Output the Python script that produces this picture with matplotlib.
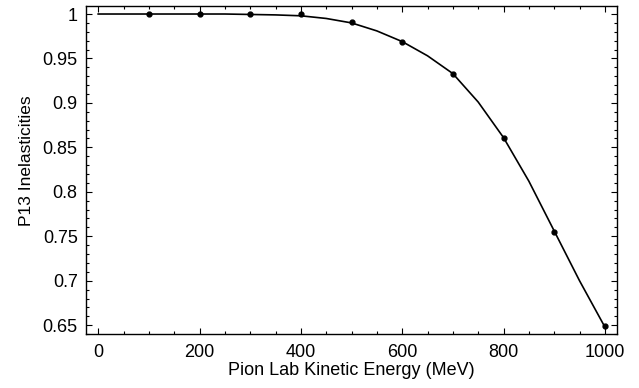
import numpy as np
import matplotlib.pyplot as plt
from matplotlib.ticker import MultipleLocator, FuncFormatter

plt.rcParams['font.family'] = ['Liberation Sans', 'DejaVu Sans']

# data points
energy = [100, 200, 300, 400, 500, 600, 700, 800, 900, 1000]
inel   = [1.0, 1.0, 1.0, 0.9997, 0.991, 0.969, 0.933, 0.861, 0.755, 0.649]

# fitted curve
curve_e = [0, 50, 100, 150, 200, 250, 300, 350, 400, 450, 500,
           550, 600, 650, 700, 750, 800, 850, 900, 950, 1000]
curve_v = [1.0, 1.0, 1.0, 1.0, 1.0, 1.0, 0.9995, 0.999, 0.998, 0.995, 0.990,
           0.981, 0.969, 0.953, 0.933, 0.901, 0.861, 0.812, 0.756, 0.700, 0.648]

fig = plt.figure( figsize = ( 6.39, 3.88 ), dpi = 100 )
ax = fig.add_axes( [ 0.1346, 0.139, 0.831, 0.8455 ] )

ax.plot( curve_e, curve_v, '-', color = 'black', lw = 1.2 )
ax.plot( energy, inel, 'o', color = 'black', ms = 3.5 )

ax.set_xlim( -24, 1024 )
ax.set_ylim( 0.64, 1.009 )

ax.xaxis.set_major_locator( MultipleLocator( 200 ) )
ax.xaxis.set_minor_locator( MultipleLocator( 50 ) )
ax.yaxis.set_major_locator( MultipleLocator( 0.05 ) )
ax.yaxis.set_minor_locator( MultipleLocator( 0.01 ) )
ax.yaxis.set_major_formatter( FuncFormatter( lambda v, p: '{:g}'.format( round( v, 3 ) ) ) )

ax.tick_params( which = 'both', direction = 'in', top = True, right = True,
                labelsize = 13, width = 0.8 )
ax.tick_params( axis = 'x', pad = 7 )
ax.tick_params( axis = 'y', pad = 6 )
ax.tick_params( which = 'major', length = 4 )
ax.tick_params( which = 'minor', length = 2 )
for s in ax.spines.values():
    s.set_linewidth( 1.0 )

ax.set_xlabel( 'Pion Lab Kinetic Energy (MeV)', fontsize = 13, labelpad = 1 )
ax.set_ylabel( 'P13 Inelasticities', fontsize = 12.5 )
ax.yaxis.set_label_coords( -0.098, 0.53 )

plt.savefig( 'out.png', dpi = 100 )
plt.close()
